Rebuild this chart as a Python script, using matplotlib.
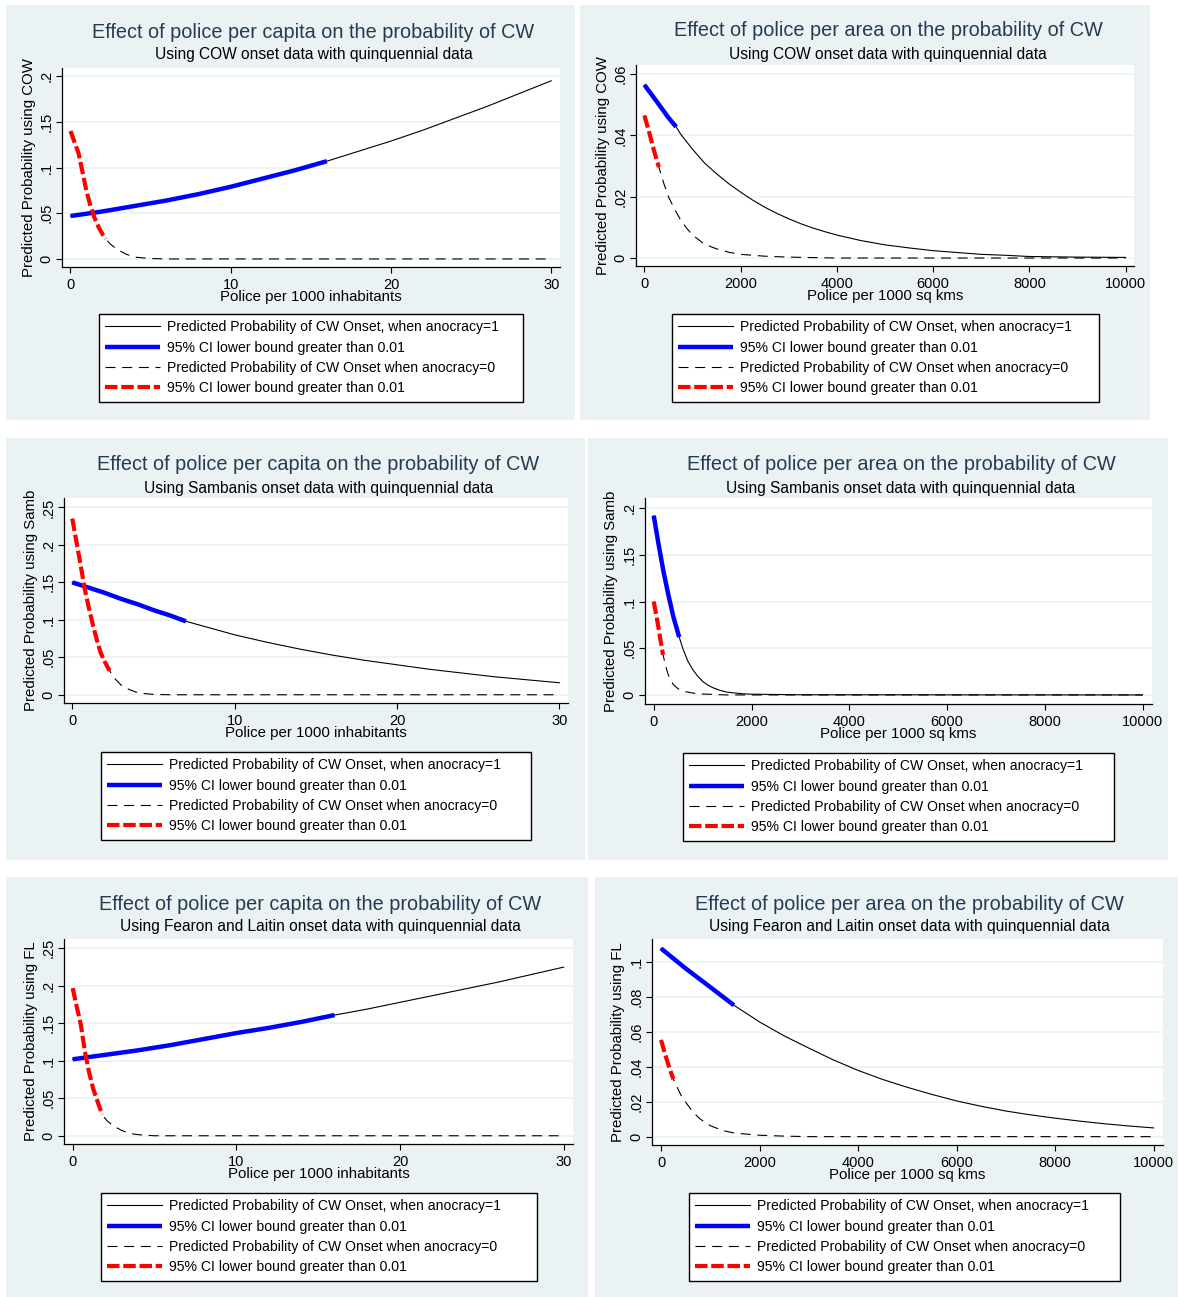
import matplotlib
matplotlib.use("Agg")
import matplotlib.pyplot as plt
from matplotlib.patches import Rectangle

plt.rcParams["font.family"] = ["Liberation Sans", "DejaVu Sans"]

W, H = 1179, 1297

# ---- data ----
# COW, police per capita
cow_cap_x1 = [0, 2, 4, 6, 8, 10, 12, 14, 16, 18, 20, 22, 24, 26, 28, 30]
cow_cap_y1 = [0.047, 0.052, 0.058, 0.064, 0.071, 0.079, 0.088, 0.097, 0.107,
              0.118, 0.129, 0.141, 0.154, 0.167, 0.181, 0.195]
cow_cap_x0 = [0, 0.25, 0.5, 0.75, 1.0, 1.25, 1.5, 1.75, 2.0, 2.2, 2.5, 3, 3.5, 4, 5, 6, 30]
cow_cap_y0 = [0.140, 0.128, 0.116, 0.095, 0.074, 0.058, 0.045, 0.035, 0.027, 0.022,
              0.016, 0.0095, 0.005, 0.002, 0.0005, 0.0, 0.0]
cow_cap_ci = (16, 2.2)

# COW, police per area
cow_area_x1 = [0, 250, 500, 660, 750, 1000, 1250, 1500, 1750, 2000, 2250, 2500, 2750,
               3000, 3250, 3500, 3750, 4000, 4500, 5000, 5500, 6000, 6500, 7000, 7500,
               8000, 9000, 10000]
cow_area_y1 = [0.0565, 0.0512, 0.0458, 0.0428, 0.0405, 0.0355, 0.031, 0.0275, 0.0243,
               0.0215, 0.0189, 0.0166, 0.0146, 0.0128, 0.0112, 0.0098, 0.0086, 0.0075,
               0.0057, 0.0043, 0.0033, 0.0024, 0.0018, 0.0012, 0.0009, 0.0005, 0.0003,
               0.0002]
cow_area_x0 = [0, 100, 200, 300, 400, 500, 625, 750, 875, 1000, 1250, 1500, 1750, 2000,
               2500, 3000, 4000, 10000]
cow_area_y0 = [0.0465, 0.041, 0.035, 0.0297, 0.0245, 0.020, 0.016, 0.0125, 0.0098,
               0.0075, 0.0045, 0.003, 0.0019, 0.0012, 0.0006, 0.0003, 0.0, 0.0]
cow_area_ci = (660, 300)

# Sambanis, police per capita
samb_cap_x1 = [0, 1, 2, 3, 4, 5, 6, 7, 8, 10, 12, 14, 16, 18, 20, 22, 24, 26, 28, 30]
samb_cap_y1 = [0.150, 0.143, 0.136, 0.128, 0.121, 0.113, 0.106, 0.098, 0.092, 0.080,
               0.070, 0.061, 0.053, 0.046, 0.040, 0.034, 0.029, 0.024, 0.020, 0.016]
samb_cap_x0 = [0, 0.25, 0.5, 0.75, 1.0, 1.25, 1.5, 1.75, 2.0, 2.3, 2.6, 3, 3.5, 4, 4.5, 5, 6, 30]
samb_cap_y0 = [0.235, 0.205, 0.175, 0.143, 0.118, 0.095, 0.074, 0.056, 0.044, 0.032,
               0.022, 0.013, 0.007, 0.003, 0.0015, 0.0005, 0.0, 0.0]
samb_cap_ci = (7, 2.3)

# Sambanis, police per area
samb_area_x1 = [0, 100, 200, 300, 400, 520, 600, 700, 800, 900, 1000, 1100, 1200, 1350,
                1500, 1800, 2000, 3000, 10000]
samb_area_y1 = [0.192, 0.161, 0.132, 0.107, 0.084, 0.062, 0.049, 0.036, 0.027, 0.020,
                0.0145, 0.0108, 0.008, 0.005, 0.003, 0.0013, 0.0008, 0.0002, 0.0]
samb_area_x0 = [0, 50, 100, 150, 190, 250, 300, 400, 500, 600, 800, 1000, 1500, 10000]
samb_area_y0 = [0.100, 0.086, 0.071, 0.055, 0.043, 0.030, 0.021, 0.011, 0.0065, 0.004,
                0.002, 0.001, 0.0, 0.0]
samb_area_ci = (520, 190)

# Fearon and Laitin, police per capita
fl_cap_x1 = [0, 2, 4, 6, 8, 10, 12, 14, 16, 18, 20, 22, 24, 26, 28, 30]
fl_cap_y1 = [0.102, 0.108, 0.114, 0.121, 0.129, 0.137, 0.144, 0.152, 0.161, 0.169,
             0.178, 0.187, 0.196, 0.205, 0.215, 0.225]
fl_cap_x0 = [0, 0.25, 0.5, 0.75, 1.0, 1.25, 1.5, 1.8, 2.1, 2.5, 3, 3.5, 4, 5, 30]
fl_cap_y0 = [0.197, 0.172, 0.148, 0.112, 0.085, 0.063, 0.047, 0.028, 0.020, 0.013,
             0.007, 0.003, 0.0015, 0.0, 0.0]
fl_cap_ci = (16, 1.8)

# Fearon and Laitin, police per area
fl_area_x1 = [0, 500, 1000, 1480, 2000, 2500, 3000, 3500, 4000, 4500, 5000, 5500, 6000,
              6500, 7000, 7500, 8000, 8500, 9000, 9500, 10000]
fl_area_y1 = [0.108, 0.0965, 0.0858, 0.0754, 0.0658, 0.0578, 0.0508, 0.0440, 0.0380,
              0.0328, 0.0283, 0.0242, 0.0205, 0.0174, 0.0147, 0.0125, 0.0106, 0.0089,
              0.0074, 0.0061, 0.0050]
fl_area_x0 = [0, 100, 175, 250, 400, 500, 650, 800, 1000, 1250, 1500, 2000, 2500, 3000, 10000]
fl_area_y0 = [0.0555, 0.0457, 0.039, 0.033, 0.024, 0.0198, 0.014, 0.010, 0.0063,
              0.0035, 0.002, 0.0008, 0.0003, 0.0, 0.0]
fl_area_ci = (1480, 250)

cap_ticks = [0, 10, 20, 30]
area_ticks = [0, 2000, 4000, 6000, 8000, 10000]

title_cap = "Effect of police per capita on the probability of CW"
title_area = "Effect of police per area on the probability of CW"
leg_labels = ["Predicted Probability of CW Onset, when anocracy=1",
              "95% CI lower bound greater than 0.01",
              "Predicted Probability of CW Onset when anocracy=0",
              "95% CI lower bound greater than 0.01"]

panels = [
    dict(x1=cow_cap_x1, y1=cow_cap_y1, x0=cow_cap_x0, y0=cow_cap_y0, ci=cow_cap_ci,
         title=title_cap, sub="Using COW onset data with quinquennial data",
         xlab="Police per 1000 inhabitants", ylab="Predicted Probability using COW",
         xt=cap_ticks, yt=[0, 0.05, 0.1, 0.15, 0.2], ytl=["0", ".05", ".1", ".15", ".2"],
         xlim=(-0.53, 30.55), ylim=(-0.0088, 0.209),
         bg=(6, 5, 575, 420), ax=(62, 68, 560, 267), ty=32, leg=(99, 314, 424)),
    dict(x1=cow_area_x1, y1=cow_area_y1, x0=cow_area_x0, y0=cow_area_y0, ci=cow_area_ci,
         title=title_area, sub="Using COW onset data with quinquennial data",
         xlab="Police per 1000 sq kms", ylab="Predicted Probability using COW",
         xt=area_ticks, yt=[0, 0.02, 0.04, 0.06], ytl=["0", ".02", ".04", ".06"],
         xlim=(-175, 10175), ylim=(-0.0026, 0.063),
         bg=(580, 5, 1150, 420), ax=(636, 65, 1134, 266), ty=31, leg=(672, 314, 427)),
    dict(x1=samb_cap_x1, y1=samb_cap_y1, x0=samb_cap_x0, y0=samb_cap_y0, ci=samb_cap_ci,
         title=title_cap, sub="Using Sambanis onset data with quinquennial data",
         xlab="Police per 1000 inhabitants", ylab="Predicted Probability using Samb",
         xt=cap_ticks, yt=[0, 0.05, 0.1, 0.15, 0.2, 0.25],
         ytl=["0", ".05", ".1", ".15", ".2", ".25"],
         xlim=(-0.51, 30.53), ylim=(-0.011, 0.2626),
         bg=(6, 438, 585, 860), ax=(64, 498, 568, 703), ty=465, leg=(101, 752, 430)),
    dict(x1=samb_area_x1, y1=samb_area_y1, x0=samb_area_x0, y0=samb_area_y0, ci=samb_area_ci,
         title=title_area, sub="Using Sambanis onset data with quinquennial data",
         xlab="Police per 1000 sq kms", ylab="Predicted Probability using Samb",
         xt=area_ticks, yt=[0, 0.05, 0.1, 0.15, 0.2], ytl=["0", ".05", ".1", ".15", ".2"],
         xlim=(-179, 10194), ylim=(-0.0097, 0.211),
         bg=(588, 438, 1168, 860), ax=(645, 498, 1152, 704), ty=465, leg=(683, 753, 431)),
    dict(x1=fl_cap_x1, y1=fl_cap_y1, x0=fl_cap_x0, y0=fl_cap_y0, ci=fl_cap_ci,
         title=title_cap, sub="Using Fearon and Laitin onset data with quinquennial data",
         xlab="Police per 1000 inhabitants", ylab="Predicted Probability using FL",
         xt=cap_ticks, yt=[0, 0.05, 0.1, 0.15, 0.2, 0.25],
         ytl=["0", ".05", ".1", ".15", ".2", ".25"],
         xlim=(-0.53, 30.57), ylim=(-0.011, 0.2625),
         bg=(6, 877, 588, 1297), ax=(64, 939, 573, 1144), ty=904, leg=(101, 1193, 436)),
    dict(x1=fl_area_x1, y1=fl_area_y1, x0=fl_area_x0, y0=fl_area_y0, ci=fl_area_ci,
         title=title_area, sub="Using Fearon and Laitin onset data with quinquennial data",
         xlab="Police per 1000 sq kms", ylab="Predicted Probability using FL",
         xt=area_ticks, yt=[0, 0.02, 0.04, 0.06, 0.08, 0.1],
         ytl=["0", ".02", ".04", ".06", ".08", ".1"],
         xlim=(-183, 10190), ylim=(-0.0048, 0.1134),
         bg=(595, 877, 1178, 1297), ax=(652, 939, 1163, 1145), ty=904, leg=(689, 1193, 431)),
]

fig = plt.figure(figsize=(W / 100, H / 100), dpi=100)
fig.patch.set_facecolor("white")


def fx(px):
    return px / W


def fy(py):
    return 1 - py / H


bg_col = "#EAF2F3"

for p in panels:
    bx0, by0, bx1, by1 = p["bg"]
    fig.add_artist(Rectangle((fx(bx0), fy(by1)), (bx1 - bx0) / W, (by1 - by0) / H,
                             transform=fig.transFigure, facecolor=bg_col,
                             edgecolor="none", zorder=-10))
    l, t, r, b = p["ax"]
    ax = fig.add_axes([fx(l), fy(b), (r - l) / W, (b - t) / H])
    ax.set_facecolor("white")

    blue_end, red_end = p["ci"]
    bx = [x for x in p["x1"] if x <= blue_end]
    by = p["y1"][:len(bx)]
    rx = [x for x in p["x0"] if x <= red_end]
    ry = p["y0"][:len(rx)]

    h1, = ax.plot(p["x1"], p["y1"], color="black", lw=0.8)
    h2, = ax.plot(bx, by, color="#0000FF", lw=3.2, solid_capstyle="butt")
    h3, = ax.plot(p["x0"], p["y0"], color="black", lw=0.8, ls=(0, (9, 6)))
    h4, = ax.plot(rx, ry, color="#FF0000", lw=3.0, ls=(0, (3, 0.9)))

    ax.set_xlim(p["xlim"])
    ax.set_ylim(p["ylim"])
    ax.set_xticks(p["xt"])
    ax.set_xticklabels([str(v) for v in p["xt"]], fontsize=10.5)
    ax.set_yticks(p["yt"])
    ax.set_yticklabels(p["ytl"], fontsize=10.5, rotation=90, va="center")
    ax.tick_params(length=4, width=0.8, pad=2, colors="black")
    ax.tick_params(axis="x", pad=4)
    ax.grid(axis="y", color=bg_col, lw=1.2)
    ax.set_axisbelow(True)
    for s in ["top", "right"]:
        ax.spines[s].set_visible(False)
    for s in ["left", "bottom"]:
        ax.spines[s].set_linewidth(0.9)

    fig.text(fx((bx0 + bx1) / 2 + 23), fy(p["ty"]), p["title"], ha="center", va="center",
             fontsize=14.3, color="#253B52")
    fig.text(fx((bx0 + bx1) / 2 + 23), fy(p["ty"] + 23), p["sub"], ha="center",
             va="center", fontsize=11.2, color="black")
    fig.text(fx((l + r) / 2), fy(b + 30), p["xlab"], ha="center", va="center",
             fontsize=10.8)
    ax.set_ylabel(p["ylab"], fontsize=10.8, labelpad=3)

    lx, ly, lw = p["leg"]
    fig.legend([h1, h2, h3, h4], leg_labels, loc="upper left", mode="expand",
               bbox_to_anchor=(fx(lx), fy(ly) - 0.001, lw / W, 0.001),
               bbox_transform=fig.transFigure,
               fontsize=10.1, frameon=True, fancybox=False, edgecolor="black",
               framealpha=1, handlelength=3.9, handletextpad=0.5, labelspacing=0.45,
               borderpad=0.45, borderaxespad=0)

fig.savefig("out.png", dpi=100)
